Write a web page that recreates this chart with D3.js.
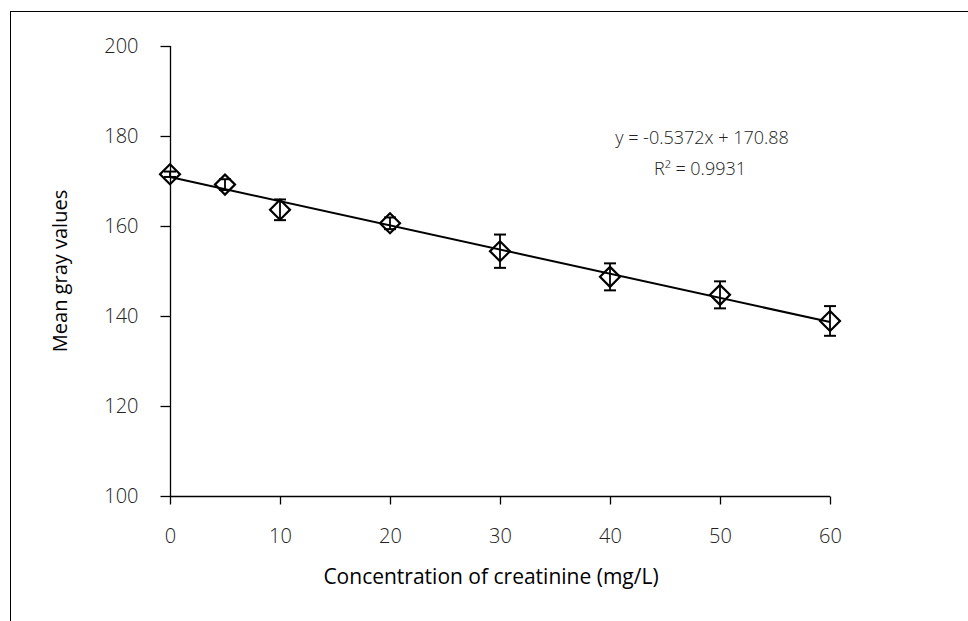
<!DOCTYPE html>
<html><head><meta charset="utf-8">
<script src="https://cdn.jsdelivr.net/npm/d3@7"></script>
<style>body{margin:0;background:#fff}svg{display:block}</style>
</head><body>
<svg id="c" width="968" height="621"></svg>
<script>
const concentrations = [0, 5, 10, 20, 30, 40, 50, 60];
const meanGray = [171.5, 169.2, 163.6, 160.6, 154.4, 148.7, 144.7, 138.9];
const errors = [0.6, 1.2, 2.3, 1.3, 3.7, 3.0, 3.0, 3.3];
const xTicks = [0, 10, 20, 30, 40, 50, 60];
const yTicks = [100, 120, 140, 160, 180, 200];
const slope = -0.5372, intercept = 170.88;
const eqText = "y = -0.5372x + 170.88";
const r2Text = "R² = 0.9931";

const svg = d3.select("#c");
const font = "'Open Sans', 'Noto Sans', sans-serif";
svg.append("rect").attr("x",10.5).attr("y",11.5).attr("width",980).attr("height",640)
  .attr("fill","none").attr("stroke","#000").attr("stroke-width",1);

const x = d3.scaleLinear().domain([0,60]).range([170,830]);
const y = d3.scaleLinear().domain([100,200]).range([496,46]);

const yAxis = svg.append("g").attr("transform","translate(170.5,0)")
  .call(d3.axisLeft(y).tickValues(yTicks).tickSize(10).tickPadding(22).tickFormat(d3.format("d")));
const xAxis = svg.append("g").attr("transform","translate(0,496.5)")
  .call(d3.axisBottom(x).tickValues(xTicks).tickSize(8).tickPadding(24).tickFormat(d3.format("d")));
[yAxis,xAxis].forEach(a=>{
  a.select(".domain").attr("stroke","#000").attr("stroke-width",1.3);
  a.selectAll(".tick line").attr("stroke","#000").attr("stroke-width",1.3);
  a.selectAll("text").attr("font-family",font).attr("font-size",20).attr("font-weight",300).attr("fill","#222");
});
yAxis.selectAll("text").attr("dy","0.3em");
xAxis.select(".domain").attr("d","M170,0H830");
yAxis.select(".domain").attr("d","M0,46V496");

// trend line
svg.append("line").attr("x1",x(0)).attr("y1",y(intercept))
  .attr("x2",x(60)).attr("y2",y(intercept+slope*60))
  .attr("stroke","#000").attr("stroke-width",2);

const pts = concentrations.map((c,i)=>({c, v:meanGray[i], e:errors[i]}));
const g = svg.append("g");
// error bars
const eb = g.selectAll("g.eb").data(pts).join("g");
eb.append("line").attr("x1",d=>x(d.c)).attr("x2",d=>x(d.c))
  .attr("y1",d=>y(d.v+d.e)).attr("y2",d=>y(d.v-d.e)).attr("stroke","#000").attr("stroke-width",1.8);
eb.append("line").attr("x1",d=>x(d.c)-6).attr("x2",d=>x(d.c)+6)
  .attr("y1",d=>y(d.v+d.e)).attr("y2",d=>y(d.v+d.e)).attr("stroke","#000").attr("stroke-width",2);
eb.append("line").attr("x1",d=>x(d.c)-6).attr("x2",d=>x(d.c)+6)
  .attr("y1",d=>y(d.v-d.e)).attr("y2",d=>y(d.v-d.e)).attr("stroke","#000").attr("stroke-width",2);
// diamonds
const sym = d3.symbol().type(d3.symbolSquare).size(200);
g.selectAll("path.m").data(pts).join("path")
  .attr("d",sym)
  .attr("transform",d=>`translate(${x(d.c)},${y(d.v)}) rotate(45)`)
  .attr("fill","none").attr("stroke","#000").attr("stroke-width",2.2);

svg.append("text").attr("x",702).attr("y",144).attr("text-anchor","middle")
  .attr("font-family",font).attr("font-size",18).attr("font-weight",300).attr("fill","#222").text(eqText);
svg.append("text").attr("x",700).attr("y",175).attr("text-anchor","middle")
  .attr("font-family",font).attr("font-size",18).attr("font-weight",300).attr("fill","#222").text(r2Text);

svg.append("text").attr("transform","translate(67,271) rotate(-90)").attr("text-anchor","middle")
  .attr("font-family",font).attr("font-size",20).attr("fill","#000").text("Mean gray values");
svg.append("text").attr("x",491).attr("y",584).attr("text-anchor","middle")
  .attr("font-family",font).attr("font-size",21).attr("fill","#000").text("Concentration of creatinine (mg/L)");
</script>
</body></html>
